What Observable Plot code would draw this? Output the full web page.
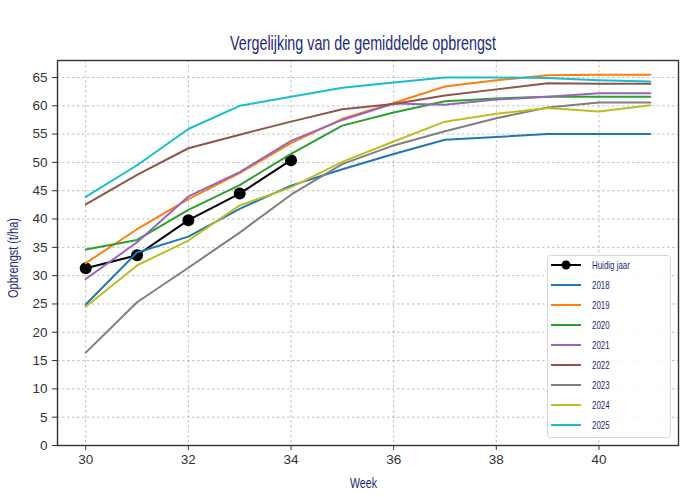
<!DOCTYPE html>
<html>
<head>
<meta charset="utf-8">
<script src="https://cdn.jsdelivr.net/npm/d3@7"></script>
<script src="https://cdn.jsdelivr.net/npm/@observablehq/plot@0.6"></script>
<style>
  html, body { margin: 0; padding: 0; background: #fff; }
  #wrap { position: relative; width: 700px; height: 497px; overflow: hidden; }
  svg.plot { position: absolute; left: 0; top: 0; }
  svg.overlay { position: absolute; left: 0; top: 0; pointer-events: none; }
  .cond { font-family: "Liberation Sans", Arial, sans-serif; fill: #1c2a80; }
</style>
</head>
<body>
<div id="wrap"></div>
<script>
const weeks = [30, 31, 32, 33, 34, 35, 36, 37, 38, 39, 40, 41];
const currentWeeks = [30, 31, 32, 33, 34];
const currentValues = [31.3, 33.6, 39.8, 44.5, 50.4];
const years = ["2018", "2019", "2020", "2021", "2022", "2023", "2024", "2025"];
const colors = ["#1f77b4", "#ff7f0e", "#2ca02c", "#9467bd", "#8c564b", "#7f7f7f", "#bcbd22", "#17becf"];
const y2018 = [24.9, 34.1, 36.9, 41.8, 45.9, 48.8, 51.5, 54.0, 54.5, 55.0, 55.0, 55.0];
const y2019 = [32.2, 38.2, 43.5, 48.1, 53.4, 57.7, 60.5, 63.4, 64.5, 65.4, 65.5, 65.5];
const y2020 = [34.6, 36.3, 41.6, 46.0, 51.5, 56.5, 58.8, 60.8, 61.3, 61.6, 61.6, 61.6];
const y2021 = [29.4, 35.9, 44.0, 48.3, 53.8, 57.5, 60.4, 60.2, 61.1, 61.6, 62.2, 62.2];
const y2022 = [42.6, 47.8, 52.5, 54.9, 57.2, 59.4, 60.3, 61.8, 62.9, 64.0, 63.9, 63.9];
const y2023 = [16.4, 25.3, 31.4, 37.6, 44.3, 49.7, 53.0, 55.5, 57.8, 59.7, 60.6, 60.6];
const y2024 = [24.5, 31.8, 36.2, 42.4, 45.6, 50.1, 53.7, 57.2, 58.6, 59.6, 59.0, 60.1];
const y2025 = [43.9, 49.5, 55.9, 60.0, 61.6, 63.2, 64.1, 65.0, 65.0, 64.9, 64.5, 64.3];
const yTicks = [0, 5, 10, 15, 20, 25, 30, 35, 40, 45, 50, 55, 60, 65];
const xTicks = [30, 32, 34, 36, 38, 40];
const currentLabel = "Huidig jaar";
const titleText = "Vergelijking van de gemiddelde opbrengst";
const xLabel = "Week";
const yLabel = "Opbrengst (t/ha)";

const series = [y2018, y2019, y2020, y2021, y2022, y2023, y2024, y2025];
const rows = [];
years.forEach((yr, i) => weeks.forEach((w, j) => rows.push({year: yr, week: w, value: series[i][j]})));
const current = currentWeeks.map((w, i) => ({week: w, value: currentValues[i]}));

const tickFont = {fontFamily: "'Liberation Sans', Arial, sans-serif", fontSize: 13.5};

const chart = Plot.plot({
  width: 700,
  height: 497,
  marginLeft: 57,
  marginRight: 22,
  marginTop: 60,
  marginBottom: 52,
  style: {background: "transparent", overflow: "visible"},
  x: {domain: [29.45, 41.55]},
  y: {domain: [0, 68]},
  color: {domain: years, range: colors},
  marks: [
    Plot.gridX(xTicks, {stroke: "#b0b0b0", strokeOpacity: 1, strokeDasharray: "2.5,2.5", strokeWidth: 0.8}),
    Plot.gridY(yTicks, {stroke: "#b0b0b0", strokeOpacity: 1, strokeDasharray: "2.5,2.5", strokeWidth: 0.8}),
    Plot.axisX(xTicks, {tickSize: 5, tickPadding: 4, label: null, stroke: "#333", ...tickFont, fill: "#333"}),
    Plot.axisY(yTicks, {tickSize: 5, tickPadding: 5, label: null, stroke: "#333", ...tickFont, fill: "#333"}),
    Plot.line(current, {x: "week", y: "value", stroke: "black", strokeWidth: 2}),
    Plot.dot(current, {x: "week", y: "value", fill: "black", r: 6}),
    Plot.line(rows, {x: "week", y: "value", z: "year", stroke: "year", strokeWidth: 2}),
    Plot.frame({stroke: "#333", strokeWidth: 1.4})
  ]
});
chart.classList.add("plot");
const wrap = document.getElementById("wrap");
wrap.appendChild(chart);

// overlay for title, axis labels, legend (condensed text via textLength)
const ov = d3.select(wrap).append("svg").attr("class", "overlay").attr("width", 700).attr("height", 497);

function condText(sel, text, size, target) {
  const t = sel.append("text").attr("class", "cond").attr("font-size", size).text(text);
  const natural = t.node().getComputedTextLength();
  const len = target != null ? target : natural * 0.72;
  t.attr("textLength", len).attr("lengthAdjust", "spacingAndGlyphs");
  return t;
}

condText(ov, titleText, 20.5, 266).attr("x", 363).attr("y", 50).attr("text-anchor", "middle");
condText(ov, xLabel, 14.5, 27).attr("x", 363.5).attr("y", 488).attr("text-anchor", "middle");
condText(ov.append("g").attr("transform", "translate(18,258) rotate(-90)"), yLabel, 14.5, 80).attr("x", 0).attr("y", 0).attr("text-anchor", "middle");

// legend
const lg = ov.append("g");
lg.append("rect").attr("x", 547.5).attr("y", 255.5).attr("width", 123).attr("height", 182).attr("rx", 3)
  .attr("fill", "white").attr("fill-opacity", 0.85).attr("stroke", "#d6d6d6").attr("stroke-width", 1);
const entries = [{label: currentLabel, color: "black", marker: true}].concat(years.map((y, i) => ({label: y, color: colors[i], marker: false})));
entries.forEach((e, i) => {
  const cy = 265 + i * 20;
  lg.append("line").attr("x1", 551).attr("x2", 581).attr("y1", cy).attr("y2", cy).attr("stroke", e.color).attr("stroke-width", 2);
  if (e.marker) lg.append("circle").attr("cx", 566).attr("cy", cy).attr("r", 4.5).attr("fill", "black");
  condText(lg, e.label, 11, null).attr("x", 592).attr("y", cy + 4);
});
</script>
</body>
</html>
